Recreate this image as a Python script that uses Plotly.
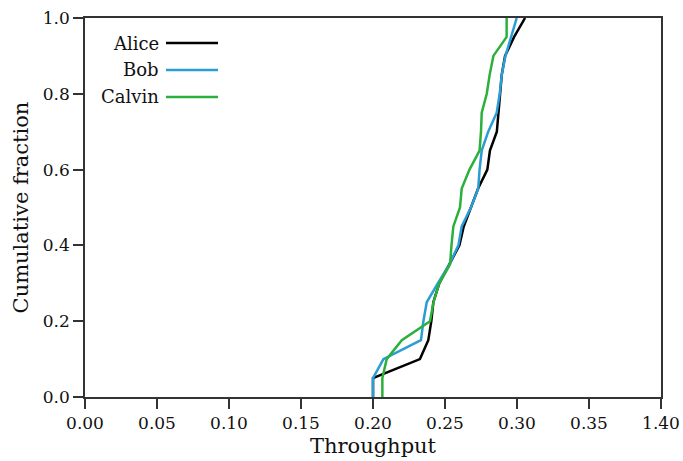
import plotly.graph_objects as go

fractions = [0.00, 0.05, 0.10, 0.15, 0.20, 0.25, 0.30, 0.35, 0.40, 0.45, 0.50,
             0.55, 0.60, 0.65, 0.70, 0.75, 0.80, 0.85, 0.90, 0.95, 1.00]

alice = [0.2000, 0.2000, 0.2326, 0.2384, 0.2405, 0.2419, 0.2460, 0.2530, 0.2600, 0.2630, 0.2680,
         0.2730, 0.2794, 0.2812, 0.2860, 0.2870, 0.2882, 0.2894, 0.2917, 0.2980, 0.3056]
bob = [0.2000, 0.2000, 0.2072, 0.2333, 0.2350, 0.2373, 0.2450, 0.2530, 0.2593, 0.2616, 0.2680,
       0.2731, 0.2740, 0.2755, 0.2800, 0.2859, 0.2880, 0.2894, 0.2920, 0.2960, 0.2998]
calvin = [0.2065, 0.2065, 0.2095, 0.2200, 0.2396, 0.2420, 0.2460, 0.2535, 0.2545, 0.2558, 0.2604,
          0.2616, 0.2670, 0.2740, 0.2750, 0.2755, 0.2790, 0.2810, 0.2836, 0.2928, 0.2928]

names = ["Alice", "Bob", "Calvin"]
colors = ["#000000", "#2a9dd4", "#2bb03c"]
series = [alice, bob, calvin]

x_tickvals = [0.00, 0.05, 0.10, 0.15, 0.20, 0.25, 0.30, 0.35, 0.40]
x_ticktext = ["0.00", "0.05", "0.10", "0.15", "0.20", "0.25", "0.30", "0.35", "1.40"]
y_tickvals = [0.0, 0.2, 0.4, 0.6, 0.8, 1.0]

FONT = "DejaVu Serif"

fig = go.Figure()
for name, color, xs in zip(names, colors, series):
    fig.add_trace(go.Scatter(x=xs, y=fractions, mode="lines", name=name,
                             line=dict(color=color, width=2.5), showlegend=False))

# custom legend: label on the left, line sample on the right
legend_y = [43, 70, 97]
for name, color, ly in zip(names, colors, legend_y):
    yp = 1 - (ly - 18) / 379
    fig.add_annotation(x=(161 - 85) / 576, y=yp, xref="paper", yref="paper",
                       text=name, showarrow=False, xanchor="right", yanchor="middle",
                       font=dict(family=FONT, size=18, color="#111"))
    fig.add_shape(type="line", xref="paper", yref="paper",
                  x0=(166 - 85) / 576, x1=(218 - 85) / 576, y0=yp, y1=yp,
                  line=dict(color=color, width=2.5))

axis_common = dict(showline=True, linecolor="#333", linewidth=1.5, mirror=True,
                   ticks="outside", ticklen=10, tickcolor="#333", tickwidth=1.5,
                   showgrid=False, zeroline=False, automargin=False,
                   tickfont=dict(family=FONT, size=17, color="#111"))

fig.update_xaxes(range=[0, 0.40], tickvals=x_tickvals, ticktext=x_ticktext,
                 title=dict(text="Throughput", font=dict(family=FONT, size=21, color="#111"), standoff=6),
                 **axis_common)
fig.update_yaxes(range=[0, 1.0], tickvals=y_tickvals, tickformat=".1f",
                 title=dict(text="Cumulative fraction", font=dict(family=FONT, size=21, color="#111"), standoff=8),
                 **axis_common)

fig.update_layout(width=683, height=461, margin=dict(l=85, r=22, t=18, b=64),
                  plot_bgcolor="white", paper_bgcolor="white",
                  font=dict(family=FONT))

fig.write_html("out.html")
